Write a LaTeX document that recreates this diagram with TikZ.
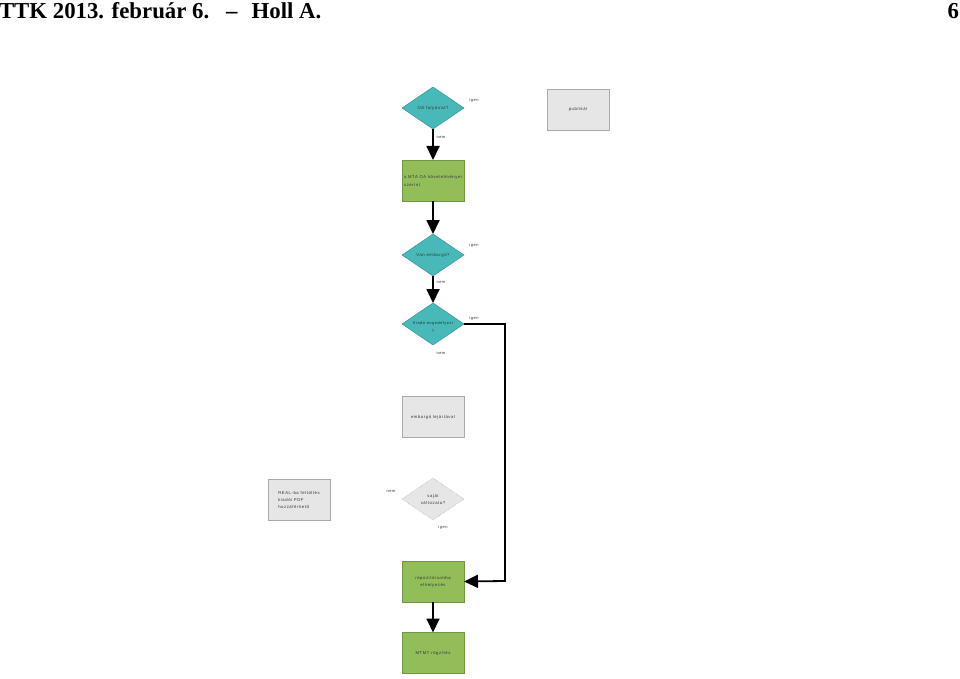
\documentclass[tikz,border=0pt]{standalone}
\usepackage{fontspec}
\setmainfont{Liberation Serif}
\newfontfamily\lbl[LetterSpace=14]{Liberation Sans}
\usetikzlibrary{shapes.geometric,arrows.meta}
\definecolor{tealfill}{RGB}{72,184,184}
\definecolor{tealline}{RGB}{60,150,150}
\definecolor{greenfill}{RGB}{146,190,90}
\definecolor{greenline}{RGB}{115,150,70}
\definecolor{grayfill}{RGB}{230,230,230}
\definecolor{grayline}{RGB}{170,170,170}
\definecolor{txt}{RGB}{50,50,50}
\tikzset{
  every node/.style={inner sep=0pt, outer sep=0pt},
  dec/.style={diamond, aspect=1.48, minimum width=62pt, minimum height=42pt, fill=tealfill, draw=tealline, line width=0.5pt},
  gdec/.style={dec, fill=grayfill, draw=grayline, densely dotted},
  dtext/.style={font=\lbl\fontsize{4.2}{6}\selectfont, text=txt, align=center},
  gbox/.style={rectangle, minimum width=62pt, minimum height=41pt, fill=grayfill, draw=grayline, line width=0.6pt, font=\lbl\fontsize{4.2}{6}\selectfont, text=txt, align=left},
  pbox/.style={gbox, fill=greenfill, draw=greenline},
  lab/.style={font=\lbl\fontsize{4}{5}\selectfont, text=txt},
  conn/.style={line width=1.8pt, -{Triangle[length=14pt,width=13pt]}},
  hdrfont/.style={font=\bfseries\fontsize{22.8}{25}\selectfont}
}
\begin{document}
\begin{tikzpicture}[x=1pt,y=-1pt]
\useasboundingbox (0,0) rectangle (960,679);
\node[anchor=base west, hdrfont] (hdr) at (-1,18.5) {TTK 2013. február 6.\hspace{17pt}–\hspace{14pt}Holl A.};
\node[anchor=base east, hdrfont] (pg) at (959,18.5) {6};

\node[dec] (d1) at (433,108) {};
\node[dtext] (t1) at (433,108) {OA folyóirat?};
\node[gbox, align=center] (pub) at (578,109.5) {publikál};
\node[pbox] (g1) at (433,180.5) {a MTA OA követelményei\\[2pt]szerint};
\node[dec] (d2) at (433,255) {};
\node[dtext] (t2) at (433,255) {Van embargó?};
\node[dec] (d3) at (433,324) {};
\node[dtext, font=\lbl\fontsize{3.9}{6}\selectfont] (t3) at (433,327) {Kiadó engedélyezi\\[2pt]?};
\node[gbox, align=center] (emb) at (433,417) {embargó lejártával};
\node[gbox] (real) at (299,499.5) {REAL-ba feltöltés\\[1pt]kiadói PDF\\[1pt]hozzáférhető};
\node[gdec] (d4) at (433,499) {};
\node[dtext] (t4) at (433,499) {saját\\[1pt]változata?};
\node[pbox, align=center] (g2) at (433,581.5) {repozitóriumba\\[1pt]elhelyezés};
\node[pbox, align=center] (g3) at (433,653) {MTMT rögzítés};

\node[lab] (l1a) at (474,100) {igen};
\node[lab] (l1b) at (441,137) {nem};
\node[lab] (l2a) at (474,245) {igen};
\node[lab] (l2b) at (441,282) {nem};
\node[lab] (l3a) at (474,318) {igen};
\node[lab] (l3b) at (441,353) {nem};
\node[lab] (l4a) at (391,491) {nem};
\node[lab] (l4b) at (443,527) {igen};

\draw[conn] (d1.south) -- (g1.north);
\draw[conn] (g1.south) -- (d2.north);
\draw[conn] (d2.south) -- (d3.north);
\draw[conn] (d3.east) -| (505,581) -- (g2.east);
\draw[conn] (g2.south) -- (g3.north);
\end{tikzpicture}
\end{document}
